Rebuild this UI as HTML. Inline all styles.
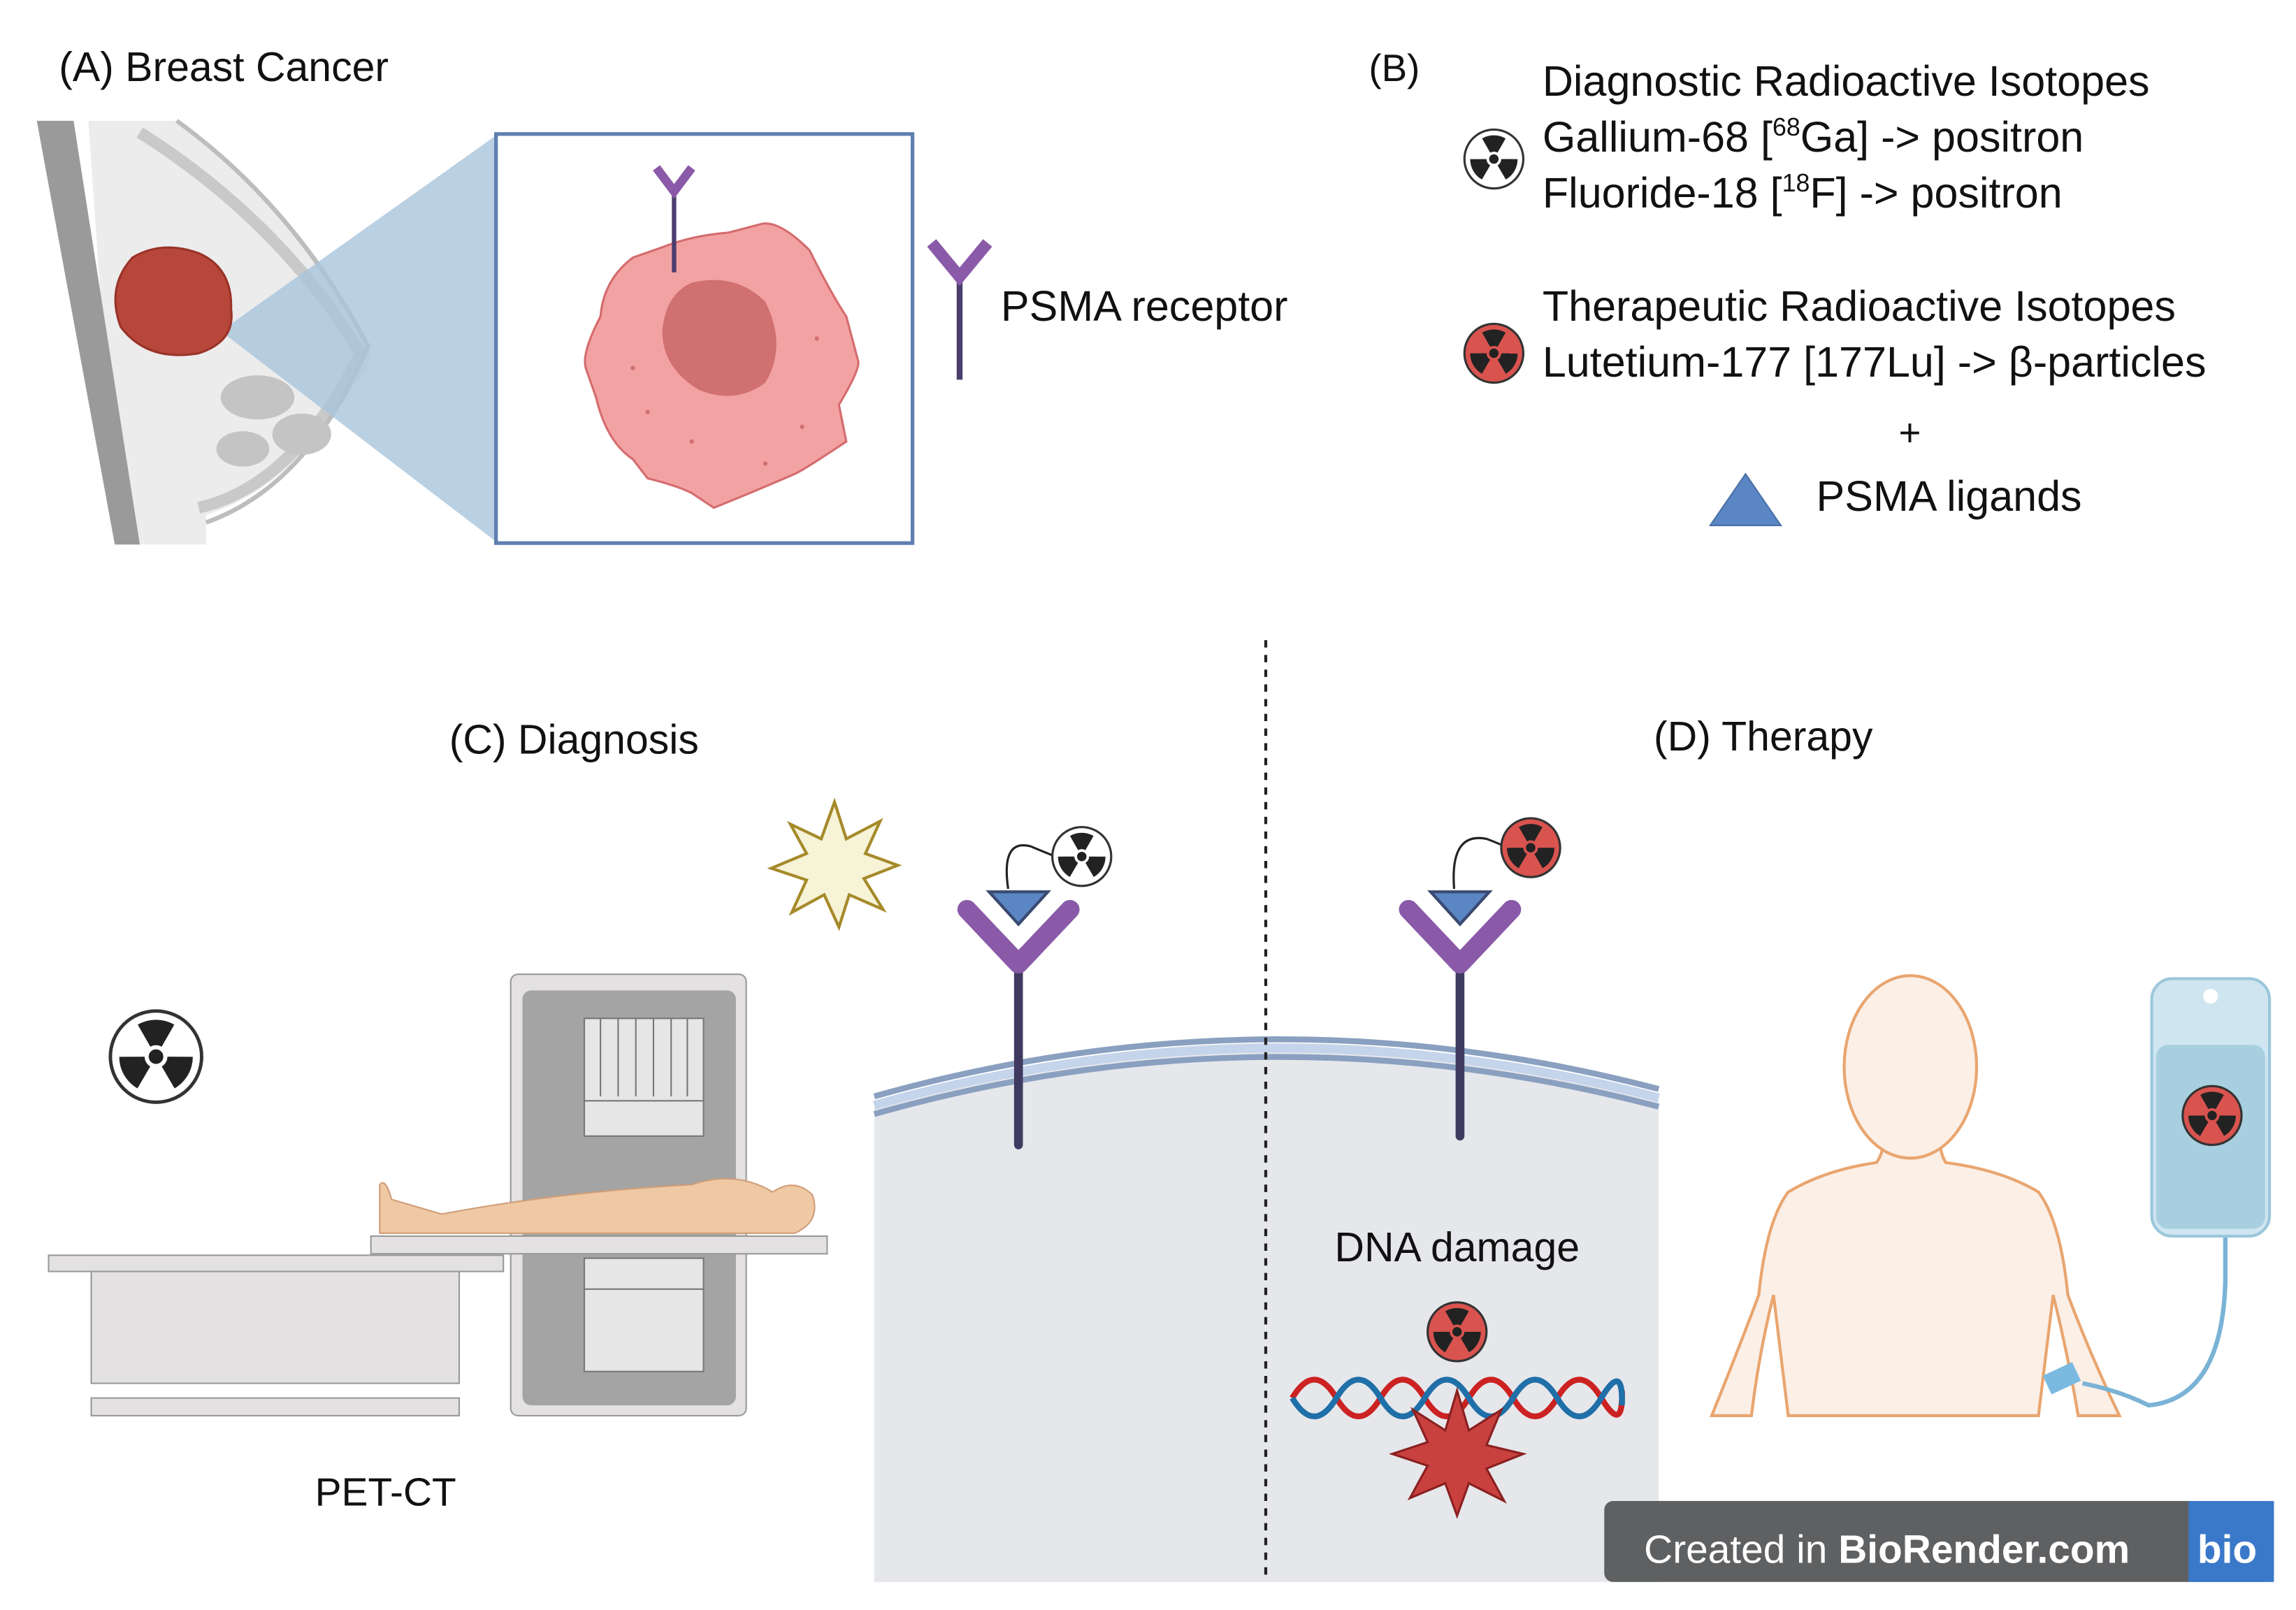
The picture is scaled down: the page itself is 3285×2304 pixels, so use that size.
<!DOCTYPE html>
<html><head><meta charset="utf-8"><style>
html,body{margin:0;padding:0;background:#fff}
svg{display:block}
text{font-family:"Liberation Sans",sans-serif;fill:#111}
</style></head><body>
<svg width="3285" height="2304" viewBox="0 0 1560 1094" xmlns="http://www.w3.org/2000/svg">
<defs>
<g id="rad">
<circle r="20" fill="currentColor" stroke="#333" stroke-width="1.5"/>
<path d="M0,0 L-8,-14 A16,16 0 0 1 8,-14 Z" fill="#222"/>
<path d="M0,0 L-8,-14 A16,16 0 0 1 8,-14 Z" fill="#222" transform="rotate(120)"/>
<path d="M0,0 L-8,-14 A16,16 0 0 1 8,-14 Z" fill="#222" transform="rotate(240)"/>
<circle r="5" fill="currentColor"/><circle r="3.2" fill="#222"/>
</g>
</defs>
<!-- A -->
<text x="40" y="55" font-size="28">(A) Breast Cancer</text>
<path d="M25,82 L120,82 Q200,140 240,215 Q262,245 240,262 Q200,330 140,350 L140,370 L80,370 L60,82 Z" fill="#ececec"/>
<path d="M25,82 L50,82 L95,370 L78,370 Z" fill="#9a9a9a"/>
<path d="M95,90 Q190,150 245,240 Q200,330 135,345" fill="none" stroke="#c9c9c9" stroke-width="8"/>
<path d="M120,82 Q200,140 250,235 Q210,330 140,355" fill="none" stroke="#bdbdbd" stroke-width="3"/>
<g fill="#c4c4c4"><ellipse cx="175" cy="270" rx="25" ry="15"/><ellipse cx="205" cy="295" rx="20" ry="14"/><ellipse cx="165" cy="305" rx="18" ry="12"/></g>
<polygon points="150,225 337,92 337,368" fill="#a9c4dc" opacity="0.8"/>
<path d="M90,175 Q110,163 135,172 Q158,182 157,210 Q160,232 135,240 Q100,246 82,222 Q72,195 90,175Z" fill="#b8473b" stroke="#9a3328" stroke-width="1.5"/>
<rect x="337" y="91" width="283" height="278" fill="#fff" stroke="#5f7fb0" stroke-width="2.5"/>
<path d="M430,175 L450,168 Q470,160 495,158 L518,152 Q530,150 550,170 Q565,200 575,215 L583,245 Q585,250 570,275 L575,300 Q545,320 540,322 Q510,335 485,345 L470,335 Q460,330 440,325 L430,312 Q412,300 405,270 L398,250 Q395,240 408,215 Q410,190 430,175Z" fill="#f3a2a3" stroke="#d46c6e" stroke-width="1.5"/>
<path d="M470,192 Q500,185 520,205 Q535,235 520,260 Q500,275 475,265 Q450,250 450,225 Q452,200 470,192Z" fill="#d07070"/>
<g fill="#d07070"><circle cx="430" cy="250" r="1.5"/><circle cx="545" cy="290" r="1.5"/><circle cx="470" cy="300" r="1.5"/><circle cx="520" cy="315" r="1.5"/><circle cx="555" cy="230" r="1.5"/><circle cx="440" cy="280" r="1.5"/></g>
<line x1="458" y1="130" x2="458" y2="185" stroke="#4a3e6e" stroke-width="3"/>
<path d="M446,114 L458,130 L470,114" fill="none" stroke="#8a5aa8" stroke-width="6"/>
<line x1="652" y1="188" x2="652" y2="258" stroke="#4a3e6e" stroke-width="4"/>
<path d="M633,165 L652,188 L671,165" fill="none" stroke="#8a5aa8" stroke-width="8"/>
<text x="680" y="218" font-size="29">PSMA receptor</text>
<!-- B -->
<text x="930" y="55" font-size="26">(B)</text>
<use href="#rad" x="1015" y="108" style="color:#fff"/>
<text x="1048" y="65" font-size="29">Diagnostic Radioactive Isotopes</text>
<text x="1048" y="103" font-size="29">Gallium-68 [<tspan font-size="17" dy="-11">68</tspan><tspan dy="11">Ga] -&gt; positron</tspan></text>
<text x="1048" y="141" font-size="29">Fluoride-18 [<tspan font-size="17" dy="-11">18</tspan><tspan dy="11">F] -&gt; positron</tspan></text>
<use href="#rad" x="1015" y="240" style="color:#d9534f"/>
<text x="1048" y="218" font-size="29">Therapeutic Radioactive Isotopes</text>
<text x="1048" y="256" font-size="29">Lutetium-177 [177Lu] -&gt; β-particles</text>
<text x="1290" y="303" font-size="26">+</text>
<polygon points="1162,357 1186,322 1210,357" fill="#5b86c4" stroke="#4a70a8"/>
<text x="1234" y="347" font-size="29">PSMA ligands</text>
<!-- cell -->
<path d="M594,750 Q860,670 1127,745 L1127,1075 L594,1075 Z" fill="#e6e7eb"/>
<path d="M594,745 Q860,670 1127,740" fill="none" stroke="#8aa0c0" stroke-width="4"/>
<path d="M594,757 Q860,682 1127,752" fill="none" stroke="#8aa0c0" stroke-width="4"/>
<path d="M594,751 Q860,676 1127,746" fill="none" stroke="#c4d4ea" stroke-width="6"/>
<line x1="860" y1="435" x2="860" y2="1075" stroke="#222" stroke-width="2" stroke-dasharray="5,5"/>
<text x="390" y="512" font-size="28" text-anchor="middle">(C) Diagnosis</text>
<text x="1198" y="510" font-size="28" text-anchor="middle">(D) Therapy</text>
<!-- starburst -->
<polygon points="567,545 575,570 598,558 588,580 610,588 587,597 600,618 577,608 570,630 560,608 538,620 548,598 524,590 548,580 537,560 558,570" fill="#f6f3d6" stroke="#a68a2a" stroke-width="2"/>
<!-- antibodies -->
<g>
<line x1="692" y1="655" x2="692" y2="778" stroke="#3f3a60" stroke-width="6" stroke-linecap="round"/>
<path d="M657,618 L692,655 L727,618" fill="none" stroke="#8a5aa8" stroke-width="13" stroke-linejoin="round" stroke-linecap="round"/>
<polygon points="672,606 712,606 692,628" fill="#5b86c4" stroke="#3a4a70" stroke-width="2"/>
<path d="M685,604 Q680,570 700,575 Q712,580 717,582" fill="none" stroke="#222" stroke-width="1.5"/>
<use href="#rad" x="735" y="582" style="color:#fff"/>
</g>
<g>
<line x1="992" y1="655" x2="992" y2="772" stroke="#3f3a60" stroke-width="6" stroke-linecap="round"/>
<path d="M957,618 L992,655 L1027,618" fill="none" stroke="#8a5aa8" stroke-width="13" stroke-linejoin="round" stroke-linecap="round"/>
<polygon points="972,606 1012,606 992,628" fill="#5b86c4" stroke="#3a4a70" stroke-width="2"/>
<path d="M988,604 Q985,565 1010,570 Q1018,573 1022,575" fill="none" stroke="#222" stroke-width="1.5"/>
<use href="#rad" x="1040" y="576" style="color:#d9534f"/>
</g>
<!-- PET-CT -->
<g transform="translate(106,718) scale(1.55)"><use href="#rad" style="color:#fff"/></g>
<rect x="347" y="662" width="160" height="300" rx="5" fill="#e3e1e1" stroke="#999"/>
<rect x="355" y="673" width="145" height="282" rx="6" fill="#a4a4a4"/>
<rect x="397" y="692" width="81" height="80" fill="#e6e6e6" stroke="#777"/>
<g stroke="#777"><line x1="408" y1="692" x2="408" y2="745"/><line x1="420" y1="692" x2="420" y2="745"/><line x1="432" y1="692" x2="432" y2="745"/><line x1="444" y1="692" x2="444" y2="745"/><line x1="456" y1="692" x2="456" y2="745"/><line x1="467" y1="692" x2="467" y2="745"/>
<line x1="408" y1="878" x2="408" y2="932"/><line x1="420" y1="878" x2="420" y2="932"/><line x1="432" y1="878" x2="432" y2="932"/><line x1="444" y1="878" x2="444" y2="932"/><line x1="456" y1="878" x2="456" y2="932"/><line x1="467" y1="878" x2="467" y2="932"/></g>
<line x1="397" y1="748" x2="478" y2="748" stroke="#777"/>
<rect x="397" y="855" width="81" height="77" fill="#e6e6e6" stroke="#777"/>
<line x1="397" y1="876" x2="478" y2="876" stroke="#777"/>
<rect x="33" y="853" width="309" height="11" fill="#e3e1e1" stroke="#999"/>
<rect x="62" y="864" width="250" height="76" fill="#e3e1e1" stroke="#999"/>
<rect x="62" y="950" width="250" height="12" fill="#e3e1e1" stroke="#999"/>
<rect x="252" y="840" width="310" height="12" fill="#e3e1e1" stroke="#999"/>
<path d="M258,838 L258,805 Q262,800 266,815 L300,825 Q380,810 470,805 Q500,795 525,810 Q540,800 552,812 Q558,830 540,838 Z" fill="#efc9a4" stroke="#cf9e7a"/>
<text x="262" y="1023" font-size="27" text-anchor="middle">PET-CT</text>
<!-- DNA -->
<text x="990" y="857" font-size="28" text-anchor="middle">DNA damage</text>
<use href="#rad" x="990" y="905" style="color:#d9534f"/>
<path d="M878,950 Q893,925 908,950 T938,950 T968,950 T998,950 T1028,950 T1058,950 T1088,950 T1102,945" fill="none" stroke="#cc2222" stroke-width="4"/>
<path d="M878,950 Q893,975 908,950 T938,950 T968,950 T998,950 T1028,950 T1058,950 T1088,950 T1102,955" fill="none" stroke="#1f6fa8" stroke-width="4"/>
<polygon points="990,945 998,972 1020,958 1010,982 1035,988 1010,998 1022,1020 998,1008 990,1030 982,1008 958,1018 970,996 946,988 970,980 960,958 982,972" fill="#c9413f" stroke="#8a2020" stroke-width="1.5"/>
<!-- patient -->
<path d="M1163,962 Q1180,920 1195,880 Q1200,830 1215,810 Q1240,795 1275,790 Q1282,780 1280,760 L1318,760 Q1316,780 1322,790 Q1360,795 1385,810 Q1400,830 1405,880 Q1420,920 1440,962 L1412,962 Q1405,920 1395,880 L1385,962 L1215,962 L1205,880 Q1195,920 1190,962 Z" fill="#fbefe6" stroke="#e9a56f" stroke-width="2"/>
<ellipse cx="1298" cy="725" rx="45" ry="62" fill="#fbefe6" stroke="#e9a56f" stroke-width="2"/>
<path d="M1512,840 L1512,870 Q1510,950 1460,955 Q1440,945 1415,940" fill="none" stroke="#7ab3d6" stroke-width="3"/>
<rect x="1390" y="930" width="22" height="14" fill="#7ab9e0" transform="rotate(-25 1400 937)"/>
<rect x="1462" y="665" width="80" height="175" rx="14" fill="#cfe6f0" stroke="#9cc7dc" stroke-width="2"/>
<rect x="1465" y="710" width="74" height="125" rx="8" fill="#a8cfdf"/>
<circle cx="1502" cy="677" r="5" fill="#fff"/>
<use href="#rad" x="1503" y="758" style="color:#d9534f"/>
<!-- banner -->
<rect x="1090" y="1020" width="455" height="55" rx="6" fill="#5f6062"/>
<rect x="1487" y="1020" width="58" height="55" fill="#3a78c9"/>
<text x="1117" y="1062" font-size="27" style="fill:#fff">Created in <tspan font-weight="bold">BioRender.com</tspan></text>
<text x="1493" y="1062" font-size="27" font-weight="bold" style="fill:#fff">bio</text>
</svg>
</body></html>
